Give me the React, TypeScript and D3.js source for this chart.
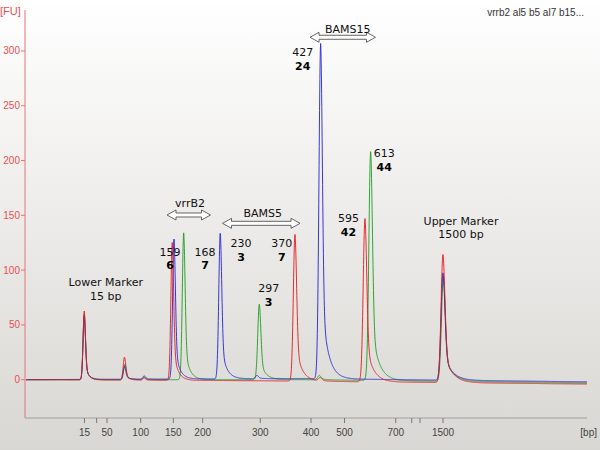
import React, { useEffect, useRef } from 'react';
import * as d3 from 'd3';

// DNA 1000 ladder: size (bp) and migration time (s)
const ladderBp = [15, 25, 50, 100, 150, 200, 300, 400, 500, 700, 850, 1000, 1500];
const ladderTime = [47.43, 48.96, 50.25, 54.46, 58.54, 62.21, 69.41, 75.75, 79.94, 86.34, 88.34, 89.38, 92.25];
const labeledBp = [15, 50, 100, 150, 200, 300, 400, 500, 700, 1500];
const yTicks = [0, 50, 100, 150, 200, 250, 300];

// peaks per sample: [time (s), height (FU)]
const redPeaks: [number, number][] = [
  [47.41, 63], [52.44, 21], [54.9, 2], [58.41, 126], [73.75, 134], [76.9, 3], [82.5, 149], [92.25, 117],
];
const bluePeaks: [number, number][] = [
  [47.41, 58], [52.44, 12], [54.9, 3], [58.63, 128], [64.41, 133], [69.0, 3], [76.96, 306], [92.25, 98],
];
const greenPeaks: [number, number][] = [
  [47.41, 60], [52.5, 14], [54.9, 2], [59.84, 134], [69.29, 69], [76.8, 4], [83.21, 209], [92.3, 95],
];

// baseline drift: [time, FU]
const redBase: [number, number][] = [[40, 0], [70, -1], [110.25, -4]];
const blueBase: [number, number][] = [[40, 0], [75, 1], [110.25, -2]];
const greenBase: [number, number][] = [[40, 0], [75, 0], [110.25, -3]];

// fragment labels: size, concentration, position [time, FU]
const peakLabels: { size: string; conc: string; t: number; fu: number }[] = [
  { size: '159', conc: '6', t: 58.13, fu: 116.8 },
  { size: '168', conc: '7', t: 62.5, fu: 116.8 },
  { size: '230', conc: '3', t: 67.0, fu: 124.5 },
  { size: '370', conc: '7', t: 72.09, fu: 124.5 },
  { size: '297', conc: '3', t: 70.46, fu: 83.4 },
  { size: '427', conc: '24', t: 74.71, fu: 298.8 },
  { size: '613', conc: '44', t: 84.91, fu: 206.6 },
  { size: '595', conc: '42', t: 80.44, fu: 147.3 },
];

const markerLabels: { lines: string[]; t: number; fu: number }[] = [
  { lines: ['Lower Marker', '15 bp'], t: 50.09, fu: 88.9 },
  { lines: ['Upper Marker', '1500 bp'], t: 94.5, fu: 144.8 },
];

const regions: { name: string; t1: number; t2: number; fu: number; labelT: number; labelFu: number }[] = [
  { name: 'vrrB2', t1: 57.75, t2: 63.19, fu: 150.3, labelT: 60.63, labelFu: 161.5 },
  { name: 'BAMS5', t1: 64.69, t2: 74.38, fu: 142.7, labelT: 69.71, labelFu: 151.9 },
  { name: 'BAMS15', t1: 75.63, t2: 83.81, fu: 312.5, labelT: 80.34, labelFu: 320.1 },
];

const W = 600;
const H = 450;

export default function App() {
  const ref = useRef<SVGSVGElement>(null);

  useEffect(() => {
    if (!ref.current) return;
    const svg = d3.select(ref.current);
    svg.selectAll('*').remove();

    const left = 25, right = 587, top = 10, bottom = 418;

    const x = d3.scaleLinear().domain([40, 110.25]).range([left, right]);
    const y = d3.scaleLinear().domain([-35, 337.4]).range([bottom, top]);
    const bpToTime = d3.scaleLinear().domain(ladderBp).range(ladderTime);

    const defs = svg.append('defs');
    const grad = defs.append('linearGradient').attr('id', 'bg').attr('x1', 0).attr('y1', 0).attr('x2', 0).attr('y2', 1);
    grad.append('stop').attr('offset', '0%').attr('stop-color', '#ffffff');
    grad.append('stop').attr('offset', '100%').attr('stop-color', '#d9d7d3');
    defs.append('clipPath').attr('id', 'plot')
      .append('rect').attr('x', left + 1).attr('y', top).attr('width', right - left).attr('height', bottom - top);

    svg.append('rect').attr('width', W).attr('height', H).attr('fill', 'url(#bg)');

    // traces
    const times = d3.range(40, 110.25, 0.02);
    const trace = (peaks: [number, number][], base: [number, number][]) => {
      const bl = d3.scaleLinear().domain(base.map(b => b[0])).range(base.map(b => b[1]));
      return times.map(t => {
        let v = bl(t);
        for (const [t0, h] of peaks) {
          const s = 0.15 + 0.002 * (t0 - 47);
          const tau = 0.4 + 0.012 * (t0 - 47);
          const d = t - t0;
          const g = Math.exp(-(d * d) / (2 * s * s));
          if (d < 0) v += h * g;
          else v += h * (0.72 * g + 0.28 * Math.exp(-d / tau));
        }
        return [t, v] as [number, number];
      });
    };
    const line = d3.line<[number, number]>().x(d => x(d[0])).y(d => y(d[1]));
    const traces = svg.append('g').attr('clip-path', 'url(#plot)');
    const series: [[number, number][], [number, number][], string][] = [
      [greenPeaks, greenBase, '#1f9a1f'],
      [bluePeaks, blueBase, '#2323d8'],
      [redPeaks, redBase, '#e41a1a'],
    ];
    series.forEach(([p, b, c]) => {
      traces.append('path')
        .datum(trace(p, b))
        .attr('d', line)
        .attr('fill', 'none')
        .attr('stroke', c)
        .attr('stroke-width', 1)
        .attr('stroke-opacity', 0.9);
    });

    // y axis
    svg.append('line').attr('x1', left).attr('x2', left).attr('y1', top).attr('y2', bottom)
      .attr('stroke', '#e87474').attr('stroke-width', 1);
    yTicks.forEach(v => {
      svg.append('line').attr('x1', left - 4).attr('x2', left).attr('y1', y(v)).attr('y2', y(v))
        .attr('stroke', '#e87474');
      svg.append('text').attr('x', left - 5).attr('y', y(v)).attr('dy', '0.35em')
        .attr('text-anchor', 'end').attr('fill', '#e85050')
        .attr('font-family', 'Liberation Sans, Arial, sans-serif').attr('font-size', 10)
        .text(v);
    });
    svg.append('text').attr('x', 0).attr('y', 11).attr('dy', '0.35em')
      .attr('fill', '#e85050').attr('font-family', 'Liberation Sans, Arial, sans-serif').attr('font-size', 11)
      .text('[FU]');

    // x axis
    svg.append('line').attr('x1', left).attr('x2', right).attr('y1', bottom).attr('y2', bottom)
      .attr('stroke', '#a0a0a0').attr('stroke-width', 1);
    ladderBp.forEach(bp => {
      const px = x(bpToTime(bp));
      svg.append('line').attr('x1', px).attr('x2', px).attr('y1', bottom).attr('y2', bottom + 5)
        .attr('stroke', '#777');
    });
    labeledBp.forEach(bp => {
      svg.append('text').attr('x', x(bpToTime(bp))).attr('y', 432).attr('dy', '0.35em')
        .attr('text-anchor', 'middle').attr('fill', '#444')
        .attr('font-family', 'Liberation Sans, Arial, sans-serif').attr('font-size', 10)
        .text(bp);
    });
    svg.append('text').attr('x', 597).attr('y', 432).attr('dy', '0.35em').attr('text-anchor', 'end')
      .attr('fill', '#444').attr('font-family', 'Liberation Sans, Arial, sans-serif').attr('font-size', 10)
      .text('[bp]');

    svg.append('text').attr('x', 584).attr('y', 12).attr('dy', '0.35em').attr('text-anchor', 'end')
      .attr('fill', '#333').attr('font-family', 'Liberation Sans, Arial, sans-serif').attr('font-size', 10)
      .text('vrrb2 al5 b5 al7 b15...');

    const font = 'DejaVu Sans, sans-serif';

    // region arrows
    regions.forEach(r => {
      const x1 = x(r.t1), x2 = x(r.t2), cy = y(r.fu);
      const hl = 9, hh = 5, sh = 2;
      const pts: [number, number][] = [
        [x1, cy], [x1 + hl, cy - hh], [x1 + hl, cy - sh], [x2 - hl, cy - sh], [x2 - hl, cy - hh],
        [x2, cy], [x2 - hl, cy + hh], [x2 - hl, cy + sh], [x1 + hl, cy + sh], [x1 + hl, cy + hh],
      ];
      svg.append('path').attr('d', 'M' + pts.map(p => p.join(',')).join('L') + 'Z')
        .attr('fill', '#fff').attr('stroke', '#555').attr('stroke-width', 0.9);
      svg.append('text').attr('x', x(r.labelT)).attr('y', y(r.labelFu)).attr('dy', '0.35em')
        .attr('text-anchor', 'middle').attr('fill', '#111').attr('font-family', font).attr('font-size', 11)
        .text(r.name);
    });

    // peak labels
    peakLabels.forEach(p => {
      const px = x(p.t), py = y(p.fu);
      svg.append('text').attr('x', px).attr('y', py).attr('dy', '0.35em').attr('text-anchor', 'middle')
        .attr('fill', '#111').attr('font-family', font).attr('font-size', 11).text(p.size);
      svg.append('text').attr('x', px).attr('y', py + 13.4).attr('dy', '0.35em').attr('text-anchor', 'middle')
        .attr('fill', '#000').attr('font-family', font).attr('font-size', 11).attr('font-weight', 'bold')
        .text(p.conc);
    });

    markerLabels.forEach(m => {
      m.lines.forEach((l, i) => {
        svg.append('text').attr('x', x(m.t)).attr('y', y(m.fu) + i * 13.4).attr('dy', '0.35em')
          .attr('text-anchor', 'middle').attr('fill', '#111').attr('font-family', font).attr('font-size', 11)
          .text(l);
      });
    });
  }, []);

  return <svg ref={ref} width={W} height={H} style={{ position: 'absolute', left: 0, top: 0 }} />;
}
